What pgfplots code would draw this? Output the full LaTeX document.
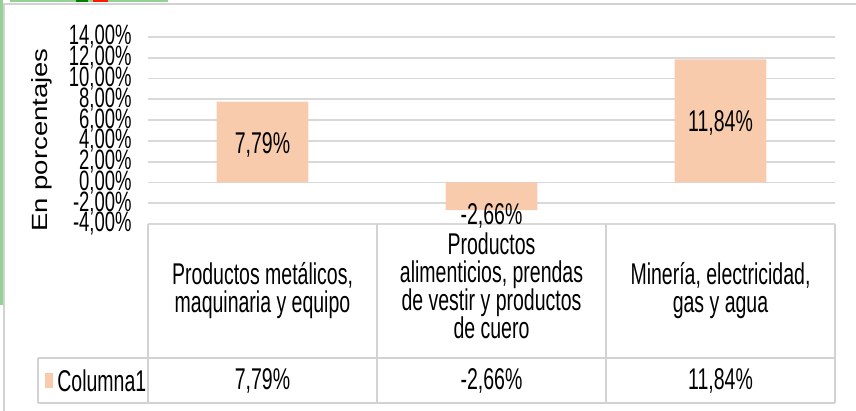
\documentclass[border=0pt]{standalone}
\usepackage{pgfplots}
\pgfplotsset{compat=1.18}
\usepackage{fontspec}
\setmainfont{Liberation Sans}
% the screenshot is stretched vertically, so the text is condensed
\newfontfamily\cf{Liberation Sans}[FakeStretch=0.65]
\newfontfamily\tf{Liberation Sans}[FakeStretch=0.66]
\newfontfamily\lf{Liberation Sans}[FakeStretch=1.25]
\definecolor{barfill}{RGB}{248,203,173}
\definecolor{gridgray}{RGB}{217,217,217}
\definecolor{framegray}{RGB}{210,210,210}
\newcommand{\cs}{\cf\fontsize{15}{14}\selectfont}

\begin{document}
\begin{tikzpicture}
% 1px = 0.5pt, picture is 856x411 px
\useasboundingbox (0,0) rectangle (428pt,205.5pt);
% bits of the window round the chart
\fill[green!40!gray!60] (5pt,204.5pt) rectangle (84pt,205.5pt);
\fill[green!50!black] (38pt,204.5pt) rectangle (44pt,205.5pt);
\fill[red!80!orange] (46.5pt,204.5pt) rectangle (54pt,205.5pt);
\fill[green!40!gray!60] (0,53pt) rectangle (1.3pt,205.5pt);
\draw[framegray, line width=1pt] (2pt,0) -- (2pt,203.5pt) -- (430pt,203.5pt);

\begin{axis}[
    at={(74pt,93.5pt)}, anchor=south west,
    scale only axis, width=343.5pt, height=93.5pt,
    xmin=0, xmax=3, ymin=-4, ymax=14,
    axis line style={draw=none},
    xtick=\empty,
    ytick={-4,-2,...,14},
    ymajorgrids, grid style={gridgray, line width=0.9pt},
    major tick length=0pt,
    /pgf/number format/assume math mode=true,
    yticklabel={\pgfmathprintnumber[fixed,fixed zerofill,precision=2,use comma]{\tick}\%},
    yticklabel style={font=\tf\fontsize{14}{14}\selectfont, anchor=east, inner sep=0pt, xshift=-8pt},
    clip=false,
]
\addplot[ybar, bar width=0.4, fill=barfill, draw=none] coordinates {(0.5,7.79) (1.5,-2.66) (2.5,11.84)};
% data labels
\addplot[draw=none, mark=none, nodes near coords, point meta=explicit symbolic,
    every node near coord/.style={anchor=center, font=\cs, text=black}]
    table[meta=lab] {
x y lab
0.5 3.65 7,79\%
1.5 -3.2 -2,66\%
2.5 5.7 11,84\%
};
\end{axis}

% y axis title
\node[rotate=90, font=\lf\fontsize{11}{11}\selectfont] at (21pt,135.5pt) {En porcentajes};

% data table
\draw[framegray, line width=0.9pt] (74pt,93.5pt) -- (74pt,4pt);
\draw[framegray, line width=0.9pt] (188.5pt,93.5pt) -- (188.5pt,4pt);
\draw[framegray, line width=0.9pt] (303pt,93.5pt) -- (303pt,4pt);
\draw[framegray, line width=0.9pt] (417.5pt,93.5pt) -- (417.5pt,4pt);
\draw[framegray, line width=0.9pt] (19pt,26.5pt) -- (417.5pt,26.5pt);
\draw[framegray, line width=0.9pt] (19pt,4pt) -- (417.5pt,4pt);
\draw[framegray, line width=0.9pt] (19pt,26.5pt) -- (19pt,4pt);

\node[align=center, font=\cs] at (131.25pt,60pt) {Productos metálicos,\\maquinaria y equipo};
\node[align=center, font=\cs] at (245.75pt,62.5pt) {Productos\\alimenticios, prendas\\de vestir y productos\\de cuero};
\node[align=center, font=\cs] at (360.25pt,60pt) {Minería, electricidad,\\gas y agua};

\fill[barfill] (22.5pt,11.5pt) rectangle (26.5pt,19pt);
\node[anchor=west, inner sep=0pt, font=\cs] at (28.5pt,15pt) {Columna1};
\node[font=\cs] at (131.25pt,15pt) {7,79\%};
\node[font=\cs] at (245.75pt,15pt) {-2,66\%};
\node[font=\cs] at (360.25pt,15pt) {11,84\%};
\end{tikzpicture}
\end{document}
